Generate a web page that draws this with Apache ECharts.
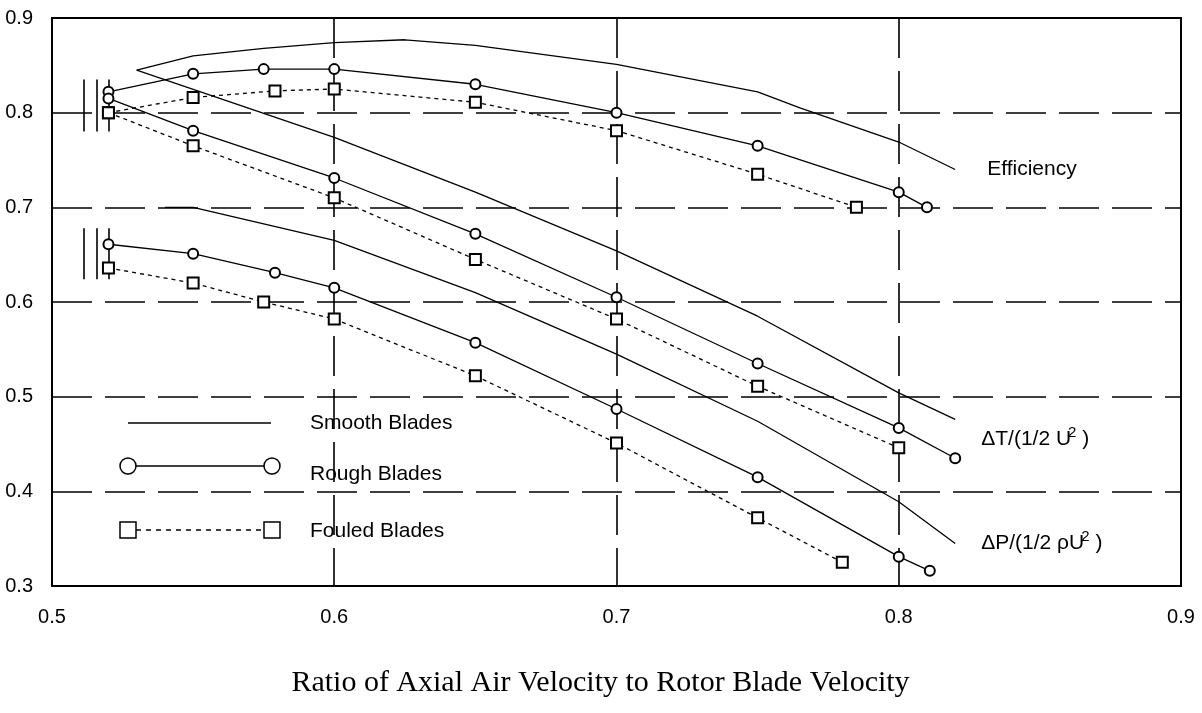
<!DOCTYPE html>
<html>
<head>
<meta charset="utf-8">
<script src="https://cdn.jsdelivr.net/npm/echarts@6/dist/echarts.min.js"></script>
<style>
  html, body { margin: 0; padding: 0; background: #fff; }
  #chart { width: 1202px; height: 713px; }
</style>
</head>
<body>
<div id="chart"></div>
<script>
// Points are [velocity ratio, value]

// Efficiency
const smoothEfficiency = [[0.53, 0.845], [0.55, 0.860], [0.575, 0.868], [0.60, 0.874], [0.625, 0.877], [0.65, 0.871], [0.70, 0.851], [0.75, 0.822], [0.765, 0.805], [0.80, 0.769], [0.82, 0.740]];
const roughEfficiency  = [[0.52, 0.822], [0.55, 0.841], [0.575, 0.846], [0.60, 0.846], [0.65, 0.830], [0.70, 0.800], [0.75, 0.765], [0.80, 0.716], [0.81, 0.700]];
const fouledEfficiency = [[0.52, 0.800], [0.55, 0.816], [0.579, 0.823], [0.60, 0.825], [0.65, 0.811], [0.70, 0.781], [0.75, 0.735], [0.785, 0.700]];

// Temperature rise coefficient  ΔT/(1/2 U²)
const smoothTemp = [[0.53, 0.845], [0.60, 0.774], [0.65, 0.716], [0.70, 0.654], [0.75, 0.585], [0.80, 0.504], [0.82, 0.476]];
const roughTemp  = [[0.52, 0.815], [0.55, 0.781], [0.60, 0.731], [0.65, 0.672], [0.70, 0.605], [0.75, 0.535], [0.80, 0.467], [0.82, 0.435]];
const fouledTemp = [[0.52, 0.800], [0.55, 0.765], [0.60, 0.710], [0.65, 0.645], [0.70, 0.582], [0.75, 0.511], [0.80, 0.446]];

// Pressure rise coefficient  ΔP/(1/2 ρU²)
const smoothPressure = [[0.54, 0.700], [0.55, 0.700], [0.60, 0.665], [0.65, 0.610], [0.70, 0.545], [0.75, 0.474], [0.80, 0.389], [0.82, 0.345]];
const roughPressure  = [[0.52, 0.661], [0.55, 0.651], [0.579, 0.631], [0.60, 0.615], [0.65, 0.557], [0.70, 0.487], [0.75, 0.415], [0.80, 0.331], [0.811, 0.316]];
const fouledPressure = [[0.52, 0.636], [0.55, 0.620], [0.575, 0.600], [0.60, 0.582], [0.65, 0.522], [0.70, 0.451], [0.75, 0.372], [0.78, 0.325]];

// Scatter range bars at the lowest flow ratio: x positions and [low, high] spans
const rangeBarX = [0.5113, 0.516, 0.52];
const rangeBarSpans = [[0.780, 0.835], [0.624, 0.678]];

const xTitle = 'Ratio of Axial Air Velocity to Rotor Blade Velocity';
const legendNames = ['Smooth Blades', 'Rough Blades', 'Fouled Blades'];

const INK = '#000';
const tickFont = "'Liberation Sans Narrow', 'Liberation Sans', Arial, sans-serif";
const textFont = "'Liberation Sans', Arial, sans-serif";

const chart = echarts.init(document.getElementById('chart'), null, { renderer: 'canvas' });

const gridDash = { color: INK, width: 1.6, type: [40, 13] };

function smooth(data, labelRich, labelText, offset) {
  return {
    type: 'line', data, symbol: 'none', z: 3,
    lineStyle: { color: INK, width: 1.3 },
    endLabel: {
      show: true, formatter: labelText, offset, align: 'left',
      color: INK, fontFamily: textFont, fontSize: 21, rich: labelRich
    }
  };
}
function rough(data) {
  return {
    type: 'line', data, symbol: 'emptyCircle', symbolSize: 10, showAllSymbol: true, z: 4,
    lineStyle: { color: INK, width: 1.3 },
    itemStyle: { color: INK, borderColor: INK, borderWidth: 1.3 }
  };
}
function fouled(data) {
  return {
    type: 'line', data, symbol: 'emptyRect', symbolSize: 11, showAllSymbol: true, z: 4,
    lineStyle: { color: INK, width: 1.3, type: [4, 4] },
    itemStyle: { color: INK, borderColor: INK, borderWidth: 1.3 }
  };
}

const rich = {
  a: { fontFamily: textFont, fontSize: 21, color: INK },
  s: { fontFamily: textFont, fontSize: 15, color: INK, padding: [0, 0, 14, -3] }
};

const rangeBars = [];
rangeBarSpans.forEach(span => rangeBarX.forEach(x => rangeBars.push({ coords: [[x, span[0]], [x, span[1]]] })));

// Legend samples drawn beside the three blade-condition names
const LX1 = 128, LX2 = 272, LTX = 310;
const rows = [423, 466, 530];
const graphic = [
  { type: 'line', shape: { x1: LX1, y1: rows[0], x2: LX2 - 1, y2: rows[0] }, style: { stroke: INK, lineWidth: 1.5 } },
  { type: 'line', shape: { x1: LX1 + 8, y1: rows[1], x2: LX2 - 8, y2: rows[1] }, style: { stroke: INK, lineWidth: 1.5 } },
  { type: 'circle', shape: { cx: LX1, cy: rows[1], r: 8 }, style: { fill: '#fff', stroke: INK, lineWidth: 1.5 } },
  { type: 'circle', shape: { cx: LX2, cy: rows[1], r: 8 }, style: { fill: '#fff', stroke: INK, lineWidth: 1.5 } },
  { type: 'line', shape: { x1: LX1 + 8, y1: rows[2], x2: LX2 - 8, y2: rows[2] }, style: { stroke: INK, lineWidth: 1.3, lineDash: [5, 5] } },
  { type: 'rect', shape: { x: LX1 - 8, y: rows[2] - 8, width: 16, height: 16 }, style: { fill: '#fff', stroke: INK, lineWidth: 1.5 } },
  { type: 'rect', shape: { x: LX2 - 8, y: rows[2] - 8, width: 16, height: 16 }, style: { fill: '#fff', stroke: INK, lineWidth: 1.5 } },
  { type: 'text', x: LTX, y: rows[0], style: { text: legendNames[0], font: '21px ' + textFont, fill: INK, verticalAlign: 'middle' } },
  { type: 'text', x: LTX, y: rows[1] + 8, style: { text: legendNames[1], font: '21px ' + textFont, fill: INK, verticalAlign: 'middle' } },
  { type: 'text', x: LTX, y: rows[2] + 1, style: { text: legendNames[2], font: '21px ' + textFont, fill: INK, verticalAlign: 'middle' } }
];

chart.setOption({
  backgroundColor: '#fff',
  animation: false,
  grid: {
    left: 52, right: 21, top: 18, bottom: 127, show: true, borderColor: INK, borderWidth: 2,
    containLabel: false, outerBoundsMode: 'none'
  },
  xAxis: {
    type: 'value', min: 0.5, max: 0.9, interval: 0.1,
    name: xTitle, nameLocation: 'middle', nameGap: 82,
    nameTextStyle: { fontFamily: "'Liberation Serif', 'Times New Roman', serif", fontSize: 30, color: INK, padding: [0, 32, 0, 0] },
    axisLine: { show: false }, axisTick: { show: false },
    axisLabel: { formatter: v => v.toFixed(1), margin: 21, color: INK, fontFamily: tickFont, fontSize: 20 },
    splitLine: { show: true, lineStyle: gridDash }
  },
  yAxis: {
    type: 'value', min: 0.3, max: 0.9, interval: 0.1,
    axisLine: { show: false }, axisTick: { show: false },
    axisLabel: { formatter: v => v.toFixed(1), margin: 19, color: INK, fontFamily: tickFont, fontSize: 20 },
    splitLine: { show: true, lineStyle: gridDash }
  },
  series: [
    smooth(smoothEfficiency, rich, 'Efficiency', [24, 0]),
    rough(roughEfficiency),
    fouled(fouledEfficiency),
    smooth(smoothTemp, rich, '{a|ΔT/(1/2 U}{s|2}{a| )}', [18, 20]),
    rough(roughTemp),
    fouled(fouledTemp),
    smooth(smoothPressure, rich, '{a|ΔP/(1/2 ρU}{s|2}{a| )}', [18, 0]),
    rough(roughPressure),
    fouled(fouledPressure),
    {
      type: 'lines', coordinateSystem: 'cartesian2d', data: rangeBars, z: 3,
      lineStyle: { color: INK, width: 1.6, opacity: 1 }
    }
  ],
  graphic
});
</script>
</body>
</html>
